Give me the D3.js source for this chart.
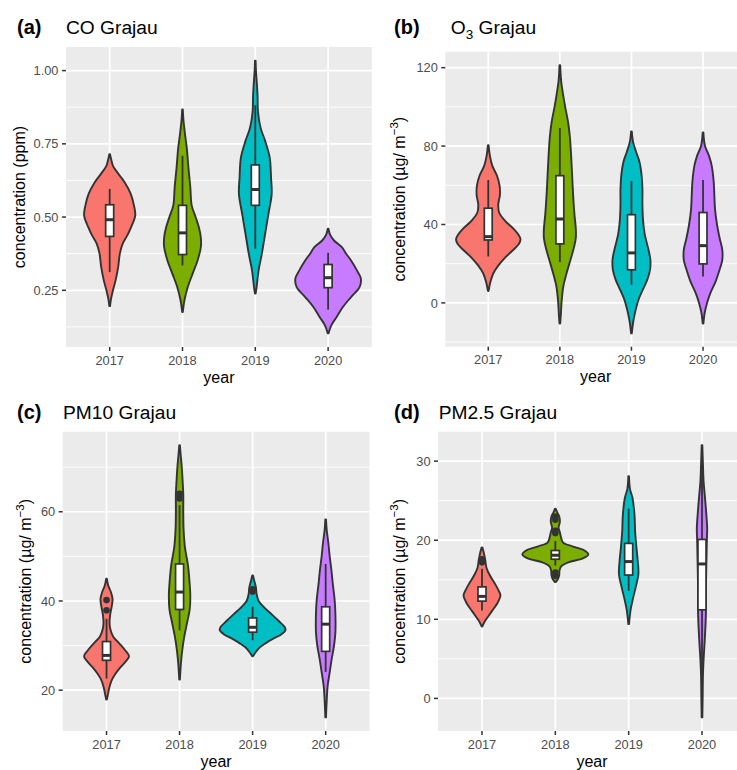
<!DOCTYPE html>
<html>
<head>
<meta charset="utf-8">
<script src="https://cdn.jsdelivr.net/npm/d3@7"></script>
<style>
  body { margin: 0; background: #fff; }
  svg { display: block; }
  text { font-family: "Liberation Sans", Arial, sans-serif; }
</style>
</head>
<body>
<svg id="chart" width="737" height="770"></svg>
<script>
// ---- data -------------------------------------------------------------
const years = ["2017", "2018", "2019", "2020"];
const fillColors = ["#F8766D", "#7CAE00", "#00BFC4", "#C77CFF"];

// Violin outlines: [concentration, relative density], bottom to top
const coProfiles = [
  [[0.196,1],[0.22,4],[0.25,10],[0.284,18],[0.33,26],[0.375,31],[0.41,40],[0.44,55],[0.465,65],[0.505,78],[0.54,74],[0.58,64],[0.62,45],[0.65,25],[0.675,10],[0.695,5],[0.715,1]],
  [[0.176,1],[0.216,6],[0.261,16],[0.307,31],[0.352,46],[0.397,56],[0.43,56],[0.465,50],[0.50,40],[0.54,28],[0.60,24],[0.67,18],[0.737,13],[0.78,8],[0.83,3],[0.867,1]],
  [[0.239,1],[0.261,4],[0.318,10],[0.375,20],[0.443,30],[0.51,40],[0.579,50],[0.635,48],[0.703,44],[0.76,30],[0.805,16],[0.862,8],[0.91,7],[0.952,5],[1.00,2],[1.034,1]],
  [[0.103,1],[0.131,10],[0.159,26],[0.193,45],[0.227,70],[0.261,96],[0.29,100],[0.318,88],[0.352,70],[0.375,55],[0.397,42],[0.42,18],[0.44,6],[0.46,1]]
];
// Box summaries: [lower whisker, Q1, median, Q3, upper whisker]
const coBoxes = [
  [0.312, 0.434, 0.491, 0.542, 0.596],
  [0.335, 0.372, 0.446, 0.540, 0.709],
  [0.392, 0.540, 0.594, 0.678, 0.882],
  [0.184, 0.259, 0.293, 0.338, 0.378]
];
const coOutliers = [[], [], [], []];
const coTicks = [0.25, 0.50, 0.75, 1.00];

const o3Profiles = [
  [[6.1,1],[11,7],[15,15],[19,30],[23,50],[27,75],[30,92],[32.5,97],[35,90],[38,75],[42,50],[46,33],[50,30],[55,35],[60,34],[65,26],[70,12],[75,5],[80.4,1]],
  [[-10.5,1],[-6,3],[0,5],[8,10],[15,20],[22,32],[28,42],[33,48],[38,48],[45,44],[55,40],[65,37],[75,34],[85,30],[92,25],[100,16],[106,10],[113,4],[121.3,1]],
  [[-15.5,1],[-10,5],[-4,12],[2,22],[7,35],[12,48],[17,56],[22,57],[28,50],[35,40],[42,35],[50,33],[58,33],[66,30],[72,24],[77,14],[82,5],[87.5,1]],
  [[-10.5,1],[-5,5],[0,12],[5,22],[11,38],[17,50],[22,58],[27,58],[33,50],[40,42],[48,36],[55,34],[62,32],[70,26],[75,18],[80,6],[87,1]]
];
const o3Boxes = [
  [23.7, 32.1, 33.8, 48.3, 62.7],
  [20.8, 30.1, 42.8, 64.9, 89.2],
  [9.3, 16.9, 25.5, 45.0, 62.2],
  [13.5, 19.9, 29.2, 46.1, 62.7]
];
const o3Outliers = [[], [], [], []];
const o3Ticks = [0, 40, 80, 120];

const pm10Profiles = [
  [[17.9,1],[19,4],[20.5,8],[22,14],[23.5,25],[25,40],[26.5,58],[27.6,67],[29,55],[30.5,38],[32,20],[33.5,12],[35,9],[37,11],[39,16],[40.5,18],[42,13],[43.5,5],[45,1]],
  [[22.4,1],[26,4],[29,8],[32,14],[35,22],[38,30],[41,32],[44,30],[48,25],[52,16],[56,12],[60,11],[64,11],[67,9],[70.5,6],[73,3],[74.9,1]],
  [[27.6,1],[28.5,9],[29.5,20],[30.5,38],[31.5,60],[32.5,85],[33.5,98],[34.2,95],[35.5,78],[37,57],[38.5,35],[40,18],[41.5,12],[43,10],[44.5,5],[45.7,1]],
  [[13.9,1],[17.5,3],[21,6],[24,12],[27,18],[30,25],[33,29],[37,29],[40,27],[44,21],[47,17],[50,12],[53,8],[56,3],[58.3,1]]
];
const pm10Boxes = [
  [22.6, 26.7, 27.8, 30.9, 36.0],
  [33.4, 38.1, 42.0, 48.3, 61.5],
  [31.2, 33.0, 34.1, 36.2, 38.7],
  [24.1, 28.7, 34.8, 38.7, 48.3]
];
const pm10Outliers = [[37.9, 40.2], [63.0, 64.0], [42.1, 42.6], []];
const pm10Ticks = [20, 40, 60];

const pm25Profiles = [
  [[9.1,1],[9.7,8],[10.3,18],[11,30],[12,47],[13,57],[13.5,53],[14.5,40],[15.5,25],[16.5,14],[17.5,10],[18.5,5],[19.1,1]],
  [[14.7,1],[15.1,8],[15.6,12],[16.2,13],[16.7,18],[17.2,40],[17.7,85],[18.2,102],[18.7,90],[19.2,55],[19.7,24],[20.3,18],[21,14],[21.6,10],[22.3,14],[23,12],[23.5,6],[24,1]],
  [[9.4,1],[11.2,6],[12.4,12],[14.1,22],[15.7,30],[17.4,28],[19.1,24],[21.1,20],[23.2,18],[25.3,12],[26.5,4],[28.1,1]],
  [[-2.4,1],[0,2],[3,3],[5,5],[7,8],[10.5,12],[13,12],[16,13],[18,14],[20,15],[21.5,16],[24,12],[25.5,9],[27.4,5],[29.5,3],[32,1]]
];
const pm25Boxes = [
  [11.1, 12.3, 12.9, 14.1, 16.4],
  [16.8, 17.6, 18.1, 18.7, 19.9],
  [13.6, 15.6, 17.3, 19.6, 24.0],
  [-2.2, 11.2, 17.0, 20.1, 31.9]
];
const pm25Outliers = [[17.2, 17.6], [15.5, 15.9, 20.9, 21.2, 22.6, 23.0], [], []];
const pm25Ticks = [0, 10, 20, 30];

// ---- layout -----------------------------------------------------------
const panels = [
  { tag: "(a)", title: [["CO", 0], [" Grajau", 0]], profiles: coProfiles, boxes: coBoxes, outliers: coOutliers,
    ticks: coTicks, fmt: d3.format(".2f"), unit: "ppm",
    left: 66, right: 371.8, top: 47, bottom: 347, tagX: 17, titleX: 66, titleY: 34, ylabX: 25 },
  { tag: "(b)", title: [["O", 0], ["3", 1], [" Grajau", 0]], profiles: o3Profiles, boxes: o3Boxes, outliers: o3Outliers,
    ticks: o3Ticks, fmt: d3.format("d"), unit: "ug",
    left: 445.3, right: 746, top: 51.7, bottom: 346.7, tagX: 394, titleX: 450.7, titleY: 34, ylabX: 404.5 },
  { tag: "(c)", title: [["PM10", 0], [" Grajau", 0]], profiles: pm10Profiles, boxes: pm10Boxes, outliers: pm10Outliers,
    ticks: pm10Ticks, fmt: d3.format("d"), unit: "ug",
    left: 62.7, right: 369.5, top: 431.7, bottom: 731, tagX: 17, titleX: 63, titleY: 419, ylabX: 30.5 },
  { tag: "(d)", title: [["PM2.5", 0], [" Grajau", 0]], profiles: pm25Profiles, boxes: pm25Boxes, outliers: pm25Outliers,
    ticks: pm25Ticks, fmt: d3.format("d"), unit: "ug",
    left: 438, right: 746, top: 431.7, bottom: 731, tagX: 394, titleX: 438.7, titleY: 419, ylabX: 404.5 }
];

const svg = d3.select("#chart");
const dark = "#333333";

panels.forEach(p => {
  const g = svg.append("g");

  // y domain: data range with 5% expansion on each side
  const all = p.profiles.flat().map(d => d[0]);
  const [lo, hi] = d3.extent(all);
  const pad = (hi - lo) * 0.05;
  const y = d3.scaleLinear().domain([lo - pad, hi + pad]).range([p.bottom, p.top]);
  const x = d3.scalePoint().domain(years).range([p.left, p.right]).padding(0.6);
  const step = x.step();
  const maxDens = d3.max(p.profiles.flat(), d => d[1]);
  const w = d3.scaleLinear().domain([0, maxDens]).range([0, 0.45 * step]);

  // panel background
  g.append("rect").attr("x", p.left).attr("y", p.top)
    .attr("width", p.right - p.left).attr("height", p.bottom - p.top).attr("fill", "#EBEBEB");

  // minor grid: midpoints between major ticks (plus one step beyond each end)
  const tstep = p.ticks[1] - p.ticks[0];
  const minor = d3.range(p.ticks[0] - tstep / 2, p.ticks[p.ticks.length - 1] + tstep, tstep)
    .filter(v => v >= y.domain()[0] && v <= y.domain()[1]);
  g.selectAll(null).data(minor).join("line")
    .attr("x1", p.left).attr("x2", p.right).attr("y1", d => y(d)).attr("y2", d => y(d))
    .attr("stroke", "#fff").attr("stroke-width", 0.9);
  g.selectAll(null).data(p.ticks).join("line")
    .attr("x1", p.left).attr("x2", p.right).attr("y1", d => y(d)).attr("y2", d => y(d))
    .attr("stroke", "#fff").attr("stroke-width", 1.7);
  g.selectAll(null).data(years).join("line")
    .attr("x1", d => x(d)).attr("x2", d => x(d)).attr("y1", p.top).attr("y2", p.bottom)
    .attr("stroke", "#fff").attr("stroke-width", 1.7);

  // violins
  years.forEach((yr, i) => {
    const cx = x(yr);
    const area = d3.area().curve(d3.curveCatmullRom.alpha(0.5))
      .y(d => y(d[0])).x0(d => cx - w(d[1])).x1(d => cx + w(d[1]));
    g.append("path").datum(p.profiles[i]).attr("d", area)
      .attr("fill", fillColors[i]).attr("stroke", dark).attr("stroke-width", 1.9)
      .attr("stroke-linejoin", "round");
  });

  // boxplots
  const bw = 0.11 * step;
  years.forEach((yr, i) => {
    const cx = x(yr);
    const [wl, q1, med, q3, wh] = p.boxes[i];
    p.outliers[i].forEach(v => {
      g.append("circle").attr("cx", cx).attr("cy", y(v)).attr("r", 3.3).attr("fill", dark);
    });
    g.append("line").attr("x1", cx).attr("x2", cx).attr("y1", y(q3)).attr("y2", y(wh))
      .attr("stroke", dark).attr("stroke-width", 1.8);
    g.append("line").attr("x1", cx).attr("x2", cx).attr("y1", y(q1)).attr("y2", y(wl))
      .attr("stroke", dark).attr("stroke-width", 1.8);
    g.append("rect").attr("x", cx - bw / 2).attr("width", bw)
      .attr("y", y(q3)).attr("height", y(q1) - y(q3))
      .attr("fill", "#fff").attr("stroke", dark).attr("stroke-width", 1.7);
    g.append("line").attr("x1", cx - bw / 2).attr("x2", cx + bw / 2).attr("y1", y(med)).attr("y2", y(med))
      .attr("stroke", dark).attr("stroke-width", 3);
  });

  // y axis
  g.selectAll(null).data(p.ticks).join("line")
    .attr("x1", p.left - 4).attr("x2", p.left).attr("y1", d => y(d)).attr("y2", d => y(d))
    .attr("stroke", dark).attr("stroke-width", 1.5);
  g.selectAll(null).data(p.ticks).join("text")
    .attr("x", p.left - 7.5).attr("y", d => y(d)).attr("dy", "0.36em")
    .attr("text-anchor", "end").attr("font-size", 12.8).attr("fill", "#4D4D4D")
    .text(d => p.fmt(d));

  // x axis
  g.selectAll(null).data(years).join("line")
    .attr("x1", d => x(d)).attr("x2", d => x(d)).attr("y1", p.bottom).attr("y2", p.bottom + 4)
    .attr("stroke", dark).attr("stroke-width", 1.5);
  g.selectAll(null).data(years).join("text")
    .attr("x", d => x(d)).attr("y", p.bottom + 17.5)
    .attr("text-anchor", "middle").attr("font-size", 12.8).attr("fill", "#4D4D4D")
    .text(d => d);

  // axis titles
  g.append("text").attr("x", (p.left + p.right) / 2).attr("y", p.bottom + 35.5)
    .attr("text-anchor", "middle").attr("font-size", 16).attr("fill", "#000").text("year");

  const yl = g.append("text")
    .attr("transform", `translate(${p.ylabX},${(p.top + p.bottom) / 2}) rotate(-90)`)
    .attr("text-anchor", "middle").attr("font-size", 16).attr("fill", "#000");
  if (p.unit === "ppm") {
    yl.text("concentration (ppm)");
  } else {
    yl.append("tspan").text("concentration (\u00B5g/ m");
    yl.append("tspan").attr("font-size", 11.5).attr("dy", -7).text("\u22123");
    yl.append("tspan").attr("dy", 7).text(")");
  }

  // panel tag and title
  g.append("text").attr("x", p.tagX).attr("y", p.titleY)
    .attr("font-size", 20).attr("font-weight", "bold").attr("fill", "#000").text(p.tag);
  const tt = g.append("text").attr("x", p.titleX).attr("y", p.titleY)
    .attr("font-size", 19.2).attr("fill", "#000");
  p.title.forEach(([s, sub], k) => {
    const prevSub = k > 0 && p.title[k - 1][1];
    const ts = tt.append("tspan").text(s);
    if (sub) ts.attr("font-size", 13.5).attr("dy", 5);
    else if (prevSub) ts.attr("dy", -5);
  });
});
</script>
</body>
</html>
